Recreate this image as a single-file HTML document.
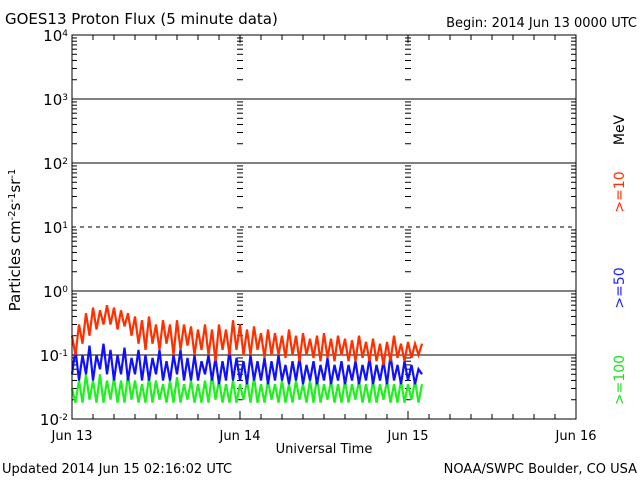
<!DOCTYPE html>
<html><head><meta charset="utf-8"><style>
body{margin:0;background:#fff;width:640px;height:480px;overflow:hidden}
svg{display:block;font-family:"DejaVu Sans","Liberation Sans",sans-serif}
</style></head><body>
<svg id="chart" width="640" height="480" viewBox="0 0 640 480">
<text x="5" y="24" font-size="15">GOES13 Proton Flux (5 minute data)</text>
<text x="637" y="27" font-size="13" text-anchor="end">Begin: 2014 Jun 13 0000 UTC</text>
<text x="2" y="473" font-size="13">Updated 2014 Jun 15 02:16:02 UTC</text>
<text x="637" y="473" font-size="13" text-anchor="end">NOAA/SWPC Boulder, CO USA</text>
<text x="324" y="453" font-size="13" text-anchor="middle">Universal Time</text>
<text transform="translate(20,240) rotate(-90)" font-size="15" text-anchor="middle">Particles cm<tspan baseline-shift="super" font-size="10">-2</tspan>s<tspan baseline-shift="super" font-size="10">-1</tspan>sr<tspan baseline-shift="super" font-size="10">-1</tspan></text>
<text transform="translate(624,130) rotate(-90)" font-size="14" text-anchor="middle">MeV</text>
<text transform="translate(624,192) rotate(-90)" font-size="14" text-anchor="middle" fill="#ff3000">&gt;=10</text>
<text transform="translate(624,288) rotate(-90)" font-size="14" text-anchor="middle" fill="#2020ff">&gt;=50</text>
<text transform="translate(624,380) rotate(-90)" font-size="14" text-anchor="middle" fill="#20e020">&gt;=100</text>
<g id="g"></g>
</svg>
<script>
const dayLabels=["Jun 13","Jun 14","Jun 15","Jun 16"];
const decades=[-2,-1,0,1,2,3,4];
const stepHours=0.5;
const red=[0.2,0.1,0.3,0.15,0.45,0.2,0.55,0.25,0.5,0.3,0.6,0.3,0.55,0.25,0.5,0.28,0.45,0.2,0.4,0.15,0.35,0.12,0.4,0.15,0.3,0.12,0.35,0.15,0.3,0.1,0.35,0.12,0.3,0.14,0.28,0.1,0.25,0.12,0.3,0.1,0.25,0.08,0.3,0.12,0.25,0.1,0.35,0.12,0.3,0.1,0.25,0.1,0.28,0.12,0.22,0.09,0.25,0.1,0.22,0.1,0.2,0.09,0.25,0.1,0.2,0.08,0.22,0.1,0.18,0.09,0.2,0.08,0.22,0.09,0.18,0.08,0.2,0.1,0.18,0.08,0.17,0.08,0.2,0.09,0.16,0.08,0.18,0.08,0.15,0.07,0.16,0.08,0.2,0.09,0.15,0.08,0.16,0.09,0.15,0.1,0.15];
const blue=[0.05,0.12,0.04,0.1,0.05,0.14,0.04,0.1,0.06,0.15,0.05,0.12,0.04,0.1,0.05,0.13,0.04,0.09,0.05,0.12,0.04,0.1,0.04,0.09,0.05,0.12,0.04,0.08,0.04,0.1,0.05,0.12,0.04,0.09,0.04,0.1,0.04,0.08,0.05,0.1,0.04,0.09,0.035,0.08,0.04,0.12,0.04,0.09,0.04,0.08,0.035,0.1,0.04,0.08,0.04,0.09,0.035,0.08,0.04,0.1,0.04,0.07,0.035,0.08,0.04,0.09,0.035,0.07,0.04,0.08,0.035,0.07,0.04,0.09,0.035,0.07,0.04,0.08,0.035,0.07,0.04,0.08,0.035,0.07,0.04,0.09,0.035,0.07,0.04,0.08,0.035,0.1,0.04,0.07,0.035,0.08,0.04,0.07,0.035,0.06,0.05];
const green=[0.03,0.018,0.04,0.018,0.05,0.02,0.04,0.018,0.05,0.018,0.04,0.02,0.045,0.018,0.04,0.018,0.05,0.02,0.04,0.018,0.035,0.018,0.045,0.018,0.04,0.02,0.035,0.018,0.04,0.018,0.045,0.018,0.035,0.02,0.04,0.018,0.035,0.018,0.04,0.018,0.05,0.02,0.04,0.018,0.035,0.018,0.04,0.018,0.035,0.02,0.04,0.018,0.045,0.018,0.035,0.018,0.04,0.02,0.035,0.018,0.04,0.018,0.035,0.018,0.04,0.02,0.035,0.018,0.04,0.018,0.045,0.018,0.035,0.02,0.04,0.018,0.035,0.018,0.04,0.018,0.035,0.02,0.04,0.018,0.035,0.018,0.04,0.018,0.035,0.02,0.04,0.018,0.035,0.018,0.04,0.018,0.035,0.02,0.04,0.018,0.035];
const L=72,R=576,T=35,B=419;
const NS="http://www.w3.org/2000/svg";
const g=document.getElementById('g');
function X(h){return L+(R-L)*h/72;}
function Y(v){return B-(B-T)*(Math.log10(v)+2)/6;}
function el(t,a,p){const e=document.createElementNS(NS,t);for(const k in a)e.setAttribute(k,a[k]);(p||g).appendChild(e);return e;}
function line(x1,y1,x2,y2,extra){const e=el('line',Object.assign({x1,y1,x2,y2,stroke:'#000','stroke-width':1},extra||{}));

return e;}
decades.forEach(d=>{
  if(d>-2&&d<4){const l=line(L,Y(Math.pow(10,d)),R,Y(Math.pow(10,d)),d===1?{'stroke-dasharray':'4,4'}:{});
  }
  const t=el('text',{x:L-4,y:Y(Math.pow(10,d))+6,'font-size':15,'text-anchor':'end'});
  
  
  t.innerHTML='10<tspan baseline-shift="super" font-size="9">'+d+'</tspan>';
});
for(let d=-2;d<4;d++){for(let m=2;m<=9;m++){const y=Y(m*Math.pow(10,d));
  line(L,y,L+5,y);line(R-5,y,R,y);
  [24,48].forEach(h=>line(X(h)-3,y,X(h)+3,y));}}
for(let h=0;h<=72;h+=3){const big=h%24===0;const len=big?8:5;
  line(X(h),B,X(h),B-len);line(X(h),T,X(h),T+len);}
dayLabels.forEach((s,i)=>{const t=el('text',{x:X(24*i),y:440,'font-size':13,'text-anchor':'middle'});
  
  
  t.textContent=s;});
function series(arr,color,name){const pts=arr.map((v,i)=>X(i*stepHours).toFixed(1)+','+Y(v).toFixed(1)).join(' ');
  const p=el('polyline',{points:pts,fill:'none',stroke:color,'stroke-width':2.2});
  
  }
series(green,'#20f020','series-ge100');
series(blue,'#1010ff','series-ge50');
series(red,'#ff3000','series-ge10');
const fr=el('rect',{x:L,y:T,width:R-L,height:B-T,fill:'none',stroke:'#000','stroke-width':1});


</script>
</body></html>
